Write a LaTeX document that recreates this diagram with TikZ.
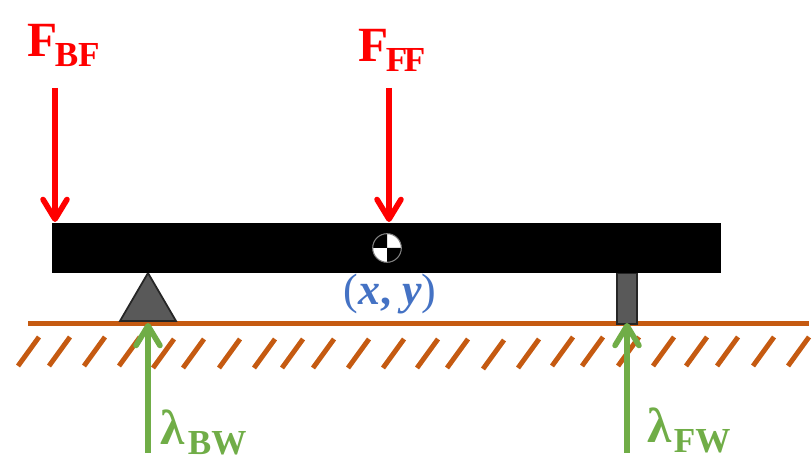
\documentclass[tikz,border=0pt]{standalone}
\usepackage{fontspec}
\setmainfont{Liberation Serif}
\usepackage{xcolor}
\usetikzlibrary{arrows.meta}
\definecolor{groundbrown}{HTML}{C55A11}
\definecolor{reactgreen}{HTML}{70AD47}
\definecolor{coordblue}{HTML}{4472C4}
\definecolor{supportgray}{HTML}{595959}
\definecolor{supportedge}{HTML}{262626}
\newcommand{\forcetext}[3][-0.03cm]{\fontsize{14}{16}\selectfont\bfseries #2\kern#1\raisebox{-0.1cm}{\fontsize{10}{12}\selectfont #3}}
\tikzset{
    forcearrow/.style={line width=1.6pt, red, -{Straight Barb[round,length=5.6pt,width=6.8pt,line width=1.6pt]}},
    reactarrow/.style={line width=1.6pt, reactgreen, -{Straight Barb[round,length=5.6pt,width=6.8pt,line width=1.6pt]}},
    forcelabel/.style={anchor=base west, inner sep=0pt, text=red},
    reactlabel/.style={anchor=base west, inner sep=0pt, text=reactgreen},
    hatchline/.style={groundbrown, line width=1.4pt},
    supportpart/.style={fill=supportgray, draw=supportedge}
}
\begin{document}
\begin{tikzpicture}[scale=1.0]
        \useasboundingbox (0,0) rectangle (8.12,4.69);

        % 1. Draw Ground Hatching
        \foreach \x/\y in {
            0.18/1.03, 0.49/1.03, 0.84/1.03, 1.19/1.03, 1.53/1.01, 1.83/1.01, 2.19/1.01,
            2.54/1.01, 2.82/1.01, 3.13/1.01, 3.48/1.01, 3.83/1.01, 4.17/1.01, 4.47/1.01,
            4.83/1.00, 5.18/1.01, 5.52/1.03, 5.82/1.03, 6.18/1.03, 6.53/1.03, 6.86/1.03,
            7.17/1.03, 7.53/1.03, 7.88/1.03
        }{
            \draw[hatchline] (\x,\y) -- ++(0.21,0.29);
        }

        % 2. Draw Ground Line
        \coordinate (GroundL) at (0.28,1.457);
        \coordinate (GroundR) at (8.09,1.457);
        \draw[groundbrown, line width=1.5pt] (GroundL) -- (GroundR);

        % 3. Draw Supports and Beam
        \draw[supportpart, line width=0.5pt] (1.20,1.48) -- (1.48,1.96) -- (1.76,1.48) -- cycle;
        \draw[supportpart, line width=0.6pt] (6.17,1.45) rectangle (6.37,1.96);
        \fill[black] (0.52,1.96) rectangle (7.21,2.46);

        % 4. Draw Center of Mass Symbol
        \coordinate (CoM) at (3.87,2.21);
        \fill[white] (CoM) circle (0.143);
        \fill[black] (CoM) -- ++(-0.143,0) arc (180:90:0.143) -- cycle;
        \fill[black] (CoM) -- ++(0.143,0) arc (0:-90:0.143) -- cycle;
        \draw[gray, line width=0.3pt] (CoM) circle (0.143);
        \node[anchor=base, inner sep=0pt, text=coordblue] (CoMLabel) at (3.90,1.64)
            {\fontsize{12.5}{14}\selectfont(\textbf{\textit{x}, \textit{y}})};

        % 5. Draw Applied Forces (Red)
        \coordinate (BFTail) at (0.55,3.81);
        \coordinate (BFTip) at (0.55,2.47);
        \coordinate (FFTail) at (3.89,3.81);
        \coordinate (FFTip) at (3.89,2.47);
        \draw[forcearrow] (BFTail) -- (BFTip);
        \draw[forcearrow] (FFTail) -- (FFTip);
        \node[forcelabel] (BFLabel) at (0.27,4.12) {\forcetext{F}{BF}};
        \node[forcelabel] (FFLabel) at (3.58,4.07) {\forcetext{F}{F\kern-1pt F}};

        % 6. Draw Wheel Reactions (Green)
        \coordinate (BWTail) at (1.48,0.16);
        \coordinate (BWTip) at (1.48,1.46);
        \coordinate (FWTail) at (6.27,0.16);
        \coordinate (FWTip) at (6.27,1.46);
        \draw[reactarrow] (BWTail) -- (BWTip);
        \draw[reactarrow] (FWTail) -- (FWTip);
        \node[reactlabel] (BWLabel) at (1.60,0.24) {\forcetext[0.03cm]{λ}{BW}};
        \node[reactlabel] (FWLabel) at (6.47,0.26) {\forcetext[0.02cm]{λ}{FW}};

    \end{tikzpicture}
\end{document}
